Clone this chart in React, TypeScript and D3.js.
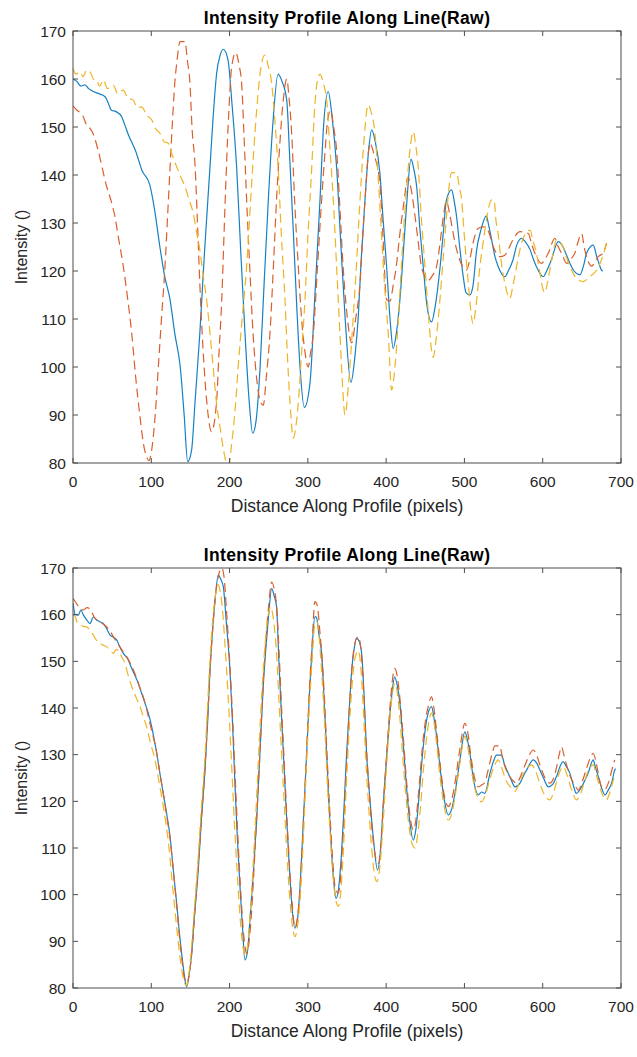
import React from "react";
import * as d3 from "d3";

type P = [number, number];

const xTicks = [0, 100, 200, 300, 400, 500, 600, 700];
const yTicks = [80, 90, 100, 110, 120, 130, 140, 150, 160, 170];
const titleText = "Intensity Profile Along Line(Raw)";
const xLabelText = "Distance Along Profile (pixels)";
const yLabelText = "Intensity ()";

const topBlue: P[] = [[0,160],[5,159.5],[10,158.5],[15,158.8],[20,158],[26,157.4],[32,157],[41,156.3],[45,155],[49,153.5],[55,153.2],[62,152.2],[66,150.5],[71,148.3],[80,145],[88,141],[98,138],[104,133],[111,125],[117,119],[124,114],[130,107],[137,100],[142,90],[146.5,80.3],[151.5,82.7],[156,93],[162,107],[168,124],[175,141.7],[179,152],[183.5,161.2],[188,165],[192,166.2],[198,164],[203,155],[209,141.7],[214,125],[219.7,107],[225,93],[229.5,86.2],[234,89],[239,100],[244,117],[249.5,134.8],[255,150],[262,161],[267,159.5],[273,155.6],[277,143],[281.5,128],[286,112],[290,100],[295.5,91.6],[302.7,96.6],[309,115],[315.5,134.8],[320,150],[326,157.4],[331,152],[336.7,141.7],[342,126],[347.5,110.5],[355,96.8],[360,102],[364.4,110.5],[368,122],[373,134.8],[377,144],[381.5,149.4],[386,147],[392,140.4],[396,131],[400.6,120.9],[405,110],[409,103.9],[413,107],[417.6,114],[422,124],[426,133.4],[431.7,143.3],[435,141.5],[439,137.6],[443,129],[447.4,120.9],[452,113],[458,109.4],[463,113],[469,121],[473,128],[477,134.8],[483.6,136.9],[487,134.5],[490,131.3],[494,125],[498.5,118.8],[502,115.5],[507,115],[511,117],[515.6,124.4],[521,128.5],[528,131.5],[531,129.5],[534.8,126.5],[539,123],[543,121],[551.7,118.8],[556,120],[562,122.3],[567,125.5],[573,126.8],[578,126],[584,124.4],[588,122.5],[592,120.9],[600.7,118.8],[605,120],[611,122.3],[619.8,126.1],[626,125],[630,123.5],[634.7,121.6],[640,120],[647.5,119.2],[652,121],[656,123.7],[664.5,125.4],[669,123],[672,121.5],[675,120.2],[677,120]];

const topRed: P[] = [[0,154.4],[5,153.5],[9,153],[13,152.2],[17,150.5],[21.7,149.7],[26,148.5],[32,145.2],[38,141],[43,137.6],[48,135],[53.6,131.3],[58,127],[64.3,120.9],[70,114],[75,107],[80,98],[85.6,89.6],[90,84],[94,81.3],[97,80.5],[100.5,82.7],[105,90],[109,100],[113,110],[117.5,120.9],[121,132],[124,141.7],[127,151],[130,159.1],[133,164],[136.7,167.8],[143,167.8],[146,164],[149.4,159.1],[152,150],[156,141.7],[159,130],[162,117.4],[166,104],[170.7,93.1],[177,86.5],[183.5,93],[186.5,103],[190,114],[193,128],[196,141.7],[199,153],[202.7,162.6],[208,165.5],[212,163],[215.4,159.1],[218.5,148],[221.8,134.8],[226,120],[230,107],[235,97],[239,93],[243,92],[247,98],[251.6,107],[256,121],[260,134.8],[264,146],[268.6,155.6],[273,160],[276,156],[279.3,148.7],[283,135],[287.8,120.9],[292,110],[296,103.5],[300.6,100],[303,102.5],[307,107],[312,120],[317.6,134.8],[322,145],[325,151],[329,153.5],[333,150],[336.7,145.2],[341,133],[345,121],[350,111],[356,105],[361,110],[366.6,117.4],[370,127],[373,134.8],[376,142],[379,146.6],[385,144],[392,138.3],[396,127],[400.6,114],[405,113.7],[409,117],[413,121],[417,127],[422,133.4],[428,139.5],[432,137],[437,131.3],[441,126],[445,121],[449,119],[454,118.1],[459,119],[464.5,121],[469,126],[473,131.3],[477,134.5],[481,132],[485.7,127.8],[490,124.5],[494,122.3],[502.8,120.2],[507,122.5],[511,125.8],[517.7,128.9],[524,129.2],[530,128.5],[537,125],[545,123],[551.7,123.3],[556,124.5],[562,126.5],[571,128.2],[581.6,127.8],[586,125.5],[590,123.7],[598.6,121.6],[603,122.5],[607,123.7],[615.6,126.8],[620,125],[624,123.7],[630.6,121.6],[636,122.5],[641,123.7],[645,126],[649.7,127.8],[653,125],[656,123],[662.5,121],[667,122],[671,123],[677,123.7],[681.6,125.8]];

const topYellow: P[] = [[0,162.2],[4,161],[8.5,161.5],[13,160.5],[17,161.8],[21.7,161.5],[26,160],[30,159.8],[34,158.5],[38.7,159.8],[44,158],[51.5,158.7],[57,157],[64.3,157.7],[70,156],[77,155.6],[82,154],[87.7,154.2],[94,152.5],[100.5,151.5],[106,149.5],[111,148.7],[116,147],[121.7,146.6],[127,144],[132.4,141.7],[138,139.5],[143,137.6],[148,135],[153.6,132],[158,128],[162,124.4],[166,119.5],[170.7,114],[175,107],[179,100],[183,93],[187.7,87.6],[192,83],[196,80],[199,79.5],[202.7,84],[207,91],[211,100],[216,110],[221.8,121],[227,135],[232.4,148.7],[237,158],[241,163.3],[245,165],[249,163],[253.8,159.1],[258,151],[262,141.7],[266,128],[270.8,114],[274,102],[277,93.1],[281.5,85.2],[285,88],[288,93],[292,103],[296.3,114],[300,127],[305,141.7],[308,152],[311,158.4],[315.5,161],[320,159],[324,155.6],[328,146],[332.5,134.8],[337,120],[341,107],[344,97],[347.4,90],[352,96.6],[357,108],[362,121],[366,133],[370.8,145.2],[377,154.6],[381,153],[385.7,148.7],[390,139],[394,127.8],[398,117],[402.7,107],[407,95.2],[410,98],[413,103.5],[417,114],[422,127.8],[426,137],[430.4,145.2],[434.6,149],[438,146],[441,141.7],[445,131],[449.6,121],[454,111],[458,103.5],[460,102],[464,106],[468.7,114],[473,123],[477,131.3],[480,137],[483.6,140.5],[490,140.5],[493,138],[496.4,134.8],[500,127],[505,117.4],[508,112],[511,109],[515,113],[519.8,121],[524,126],[528,130.6],[534.8,134.8],[538,134.8],[540,131],[543,127.8],[547,122],[551.7,117.4],[558,114.3],[562,117],[566.7,121],[571,124.5],[575,126.8],[583.7,128.5],[588,126],[592,123.7],[596,120],[600.7,116],[603,115.5],[606,117.5],[609,120.2],[613,123.5],[617.7,126.5],[622,126],[626,125],[630,123],[634.7,121],[643,118.5],[651.7,117.8],[660,118.8],[669,120.2],[675,122.3],[681.6,125.8]];

const bottomBlue: P[] = [[0,162.5],[3,160],[6.8,159.9],[10,161],[13,160],[17,159],[21.7,158.1],[26,159.5],[30,158.9],[34,158.5],[38.7,158.1],[43,157],[47.3,155.6],[51,155.2],[55.8,154.6],[60,153],[64.3,151.7],[70,150.5],[75,148.5],[79,147],[83.4,145.3],[88,143],[92,141],[96,139],[100.5,136],[104,133],[107,130.3],[111,126],[115.3,121.7],[120,117],[124,112.4],[128,105.5],[132.4,98.2],[135.5,92.5],[138.8,87.4],[142,83],[145.2,80.3],[148,82.5],[151.6,87.4],[155,95],[160,105.3],[164,116],[168.6,126.7],[172,137],[175,148.1],[178,156],[181.4,163.1],[185.6,168.5],[189,167.5],[192,166],[196,158],[200.5,148.1],[204,136],[207,123.1],[210,112],[213.3,101.7],[216.5,93],[219.7,86],[223,88],[226,94.6],[230,104],[234.6,116],[239,131],[243,144.6],[246,152],[249.4,158.9],[253.8,165.6],[257,164],[260,161.7],[263,150],[266.6,137.4],[270,126],[273,116],[276,107],[279.3,98.2],[283.5,92.8],[287,95],[290,101.7],[294,115],[298.5,130.3],[302,143],[305,151.7],[309,159.6],[311,159.4],[314,156],[317.6,151.7],[321,141],[324,130.3],[327,119],[330.4,108.9],[333,103],[336,99.2],[339,101],[343,108.9],[346,118],[349.5,130.3],[353,140],[356,148.1],[359,152.5],[362,154.9],[365,154.5],[368.7,151.7],[372,142],[375,130.3],[379,121],[383.5,112.4],[389,105.3],[393,110],[396.4,119.6],[400,128],[405,138.9],[408,144],[411,146.7],[414,145],[417.6,141],[422,132],[426,123.1],[430,116],[434.6,111.7],[438,114],[443,123.1],[447,131],[451.7,137.4],[458,140.3],[461,138],[464.5,133.9],[469,127],[473,121.7],[479.4,117.1],[484,118.5],[487.9,121.7],[494.3,128.9],[500.6,134.9],[504,133],[507,130.3],[510,126.5],[513.4,123.1],[517.7,121.4],[522,122],[526,121.7],[532.6,126],[537,128.5],[541,129.9],[547.5,129.9],[551,128],[556,126],[560,124.5],[564.5,123.1],[571,123.9],[575,125.3],[579.5,126.7],[588,128.9],[592,128.3],[596.4,126.7],[601,125],[607,123.1],[613,123.7],[618,125.5],[622,127.4],[626,128.5],[630,127.5],[634.7,126],[639,123.5],[643,121.7],[649.7,123.1],[654,124.5],[658,126],[664.5,128.9],[667,127.5],[671,125.3],[675,123],[679.5,121.4],[684,122.5],[688,123.9],[692,126.7],[693,127]];

const bottomRed: P[] = [[0,163.5],[4,162.5],[8,161.5],[13,161],[18,161.5],[23.4,160.8],[27,159.5],[30,158.9],[36,158.3],[43,157.4],[47,156.5],[51.5,155.3],[56,154],[60,153.1],[64,152],[68.6,151],[74,149.3],[79,147.4],[84,145],[89.7,142.4],[94,139.8],[98.2,136.7],[103,133.5],[107,130.3],[111,126],[115.5,121.5],[120,116.5],[124,112],[128,105.5],[132.5,97.5],[136,91],[139.5,85.5],[143,81.5],[145.5,80.8],[148,82.5],[152,88],[156,97],[160,106],[164,116],[168.6,127],[172,138],[175,148],[178.5,157],[182,164],[186,168.5],[190,170],[193,168],[196,161],[200.5,149],[204,137.5],[207.5,124],[211,111],[214.5,100],[218,91.5],[221.8,87.4],[225,90],[228,96],[232,108],[236,121],[240,135],[243.5,147],[247,156],[250,162],[253.8,167],[257,165.5],[260,162],[263.5,151],[267,138],[270.5,126],[274,114],[277,105],[280,98],[283.5,93],[287,95.5],[290.5,102.5],[294.5,116],[298.5,131],[302,144],[305.5,154],[309,162.8],[312,162],[315,157],[318,151],[321.5,141],[324.5,130],[328,118],[331.5,108],[335,101.5],[338.8,100.3],[342,104],[345.5,114],[349.5,128],[353,140],[356.5,149],[361,154.5],[364.4,155.3],[367.5,153],[370.5,146],[374,134],[378,123],[382,114],[386,108.5],[390,106.7],[393.5,111],[397,121],[401,131],[405,140.5],[408,146],[411,148.5],[414,147],[417.6,142],[422,133.5],[426,124.5],[430,117.5],[434.6,113.9],[438,116],[442,123],[446,131],[450,137],[454,140.5],[458,142.4],[461,140],[464.5,135],[469,128],[473,122.5],[479.4,118.9],[484,120.5],[488,124],[494,131],[500.6,136.7],[504,135],[508,130],[513,125],[517.7,123.1],[522,123.5],[526,124],[530,126.5],[535,130],[539,131.9],[545,131.9],[549,129],[554,126.5],[560,124.8],[566.7,123.9],[572,125.5],[578,128],[583,130],[588,131],[592,130],[597,127.5],[603,125],[609,123.9],[614,125],[618,127.5],[621,130],[624,131.7],[627,130],[631,127.5],[636,125],[641,123.5],[645.5,122.4],[650,124],[655,126.5],[660,129],[664.5,130.3],[668,128.5],[671,126],[675,123.1],[679.5,122.6],[684,124],[688,126.5],[692,128.9]];

const bottomYellow: P[] = [[0,160],[3,159.5],[5,158.5],[8.5,158],[13,157.5],[17.5,157.4],[22,156.5],[26,155.6],[30,154.5],[34.5,153.9],[38,153.5],[43,153.1],[47,152.5],[51.5,151.7],[55,152.5],[58,152.4],[62,151],[66.4,149.6],[70,147.3],[75,144.6],[80,142.5],[85.6,140.3],[90,138],[94,136],[99,132.5],[104.7,128.9],[109,125],[113.3,121],[118,116],[122,111],[126,104],[130,97],[134,90.5],[138,85],[141.5,81.5],[145,80.5],[148,83],[151.5,89],[155.5,98],[159.5,107],[163.5,117.5],[168,128],[171.5,139],[174.5,149],[178,158],[181.4,163.5],[185,166.5],[188,165],[191,161],[194,154],[198,143],[202,130],[206,116],[210,104],[213.5,95],[217,89],[219.7,87],[223,89],[226,95],[230,106],[234,119],[238,133],[241.5,144],[245,153],[249.4,160],[252.5,161.7],[256,159],[259.5,153],[263,142],[266.5,130],[270,119],[273.5,108],[277,99],[280.5,93],[283.5,91],[287,93.5],[290.5,100],[294.5,113],[298,127],[301.5,139],[305,149],[309,158],[311.5,158.5],[314.5,155],[317.5,148],[321,138],[324,127],[327.5,116],[331,106.5],[335,99.5],[339,97.5],[342,100.5],[345.5,110],[349,123],[353,136],[356.5,145],[360,150.5],[364.4,152.3],[367.5,149],[370.5,141],[374,129],[378,118],[382,109],[385,104.5],[388,102.8],[392,106],[396,115],[400,126],[404,136],[408,143],[411,145.3],[414,143.5],[417.5,138],[421,130],[425,121.5],[429,115],[433,111],[437,110],[440,112.5],[444,119],[448,127.5],[452,134],[455,137.5],[458,138.9],[461,137],[465,131.5],[469,125],[474,119],[479.4,116],[484,117.5],[488,121],[494,128],[500.6,133.9],[504,132],[508,127.5],[513,123],[518,120.5],[522,119.9],[527,121.5],[532,124.5],[538,127.5],[543,128.9],[548,127],[553,124.5],[559,123],[564.5,122.1],[569,123.5],[575,125.8],[581,127.3],[586,127.8],[591,126.5],[596,124],[602,121.5],[609,120.3],[614,122],[619,125],[623,126.8],[626,127.4],[630,126.2],[635,123.5],[639,121.5],[643,120.3],[648,121.5],[653,124],[658,126.5],[664.5,127.8],[668,126],[672,123.5],[677,121.2],[681.6,120.3],[685,121.5],[689,123.8],[692,125.7]];

const FONT = "'Liberation Sans', Arial, Helvetica, sans-serif";
const TXT = "#262626";
const AX = "#4d4d4d";
const BLUE = "#1580C4";
const RED = "#DA5F2C";
const YELLOW = "#EDB423";

const LEFT = 73;
const RIGHT = 621;

function Plot({ id, top, bottom, blue, red, yellow }: { id: string; top: number; bottom: number; blue: P[]; red: P[]; yellow: P[] }) {
  const x = d3.scaleLinear().domain([0, 700]).range([LEFT, RIGHT]);
  const y = d3.scaleLinear().domain([80, 170]).range([bottom, top]);
  const line = d3
    .line<P>()
    .x((d) => x(d[0]))
    .y((d) => y(d[1]))
    .curve(d3.curveMonotoneX);
  const tl = 5;
  const cx = (LEFT + RIGHT) / 2;
  return (
    <g>
      <defs>
        <clipPath id={id}>
          <rect x={LEFT} y={top} width={RIGHT - LEFT} height={bottom - top} />
        </clipPath>
      </defs>
      <g clipPath={`url(#${id})`} fill="none" strokeLinejoin="round">
        <path d={line(blue) || ""} stroke={BLUE} strokeWidth={1.2} />
        <path d={line(red) || ""} stroke={RED} strokeWidth={1.2} strokeDasharray="9,5" />
        <path d={line(yellow) || ""} stroke={YELLOW} strokeWidth={1.2} strokeDasharray="9,5" />
      </g>
      <rect x={LEFT} y={top} width={RIGHT - LEFT} height={bottom - top} fill="none" stroke={AX} strokeWidth={1} />
      {xTicks.map((t) => (
        <g key={"x" + t}>
          <line x1={x(t)} x2={x(t)} y1={bottom} y2={bottom - tl} stroke={AX} />
          <line x1={x(t)} x2={x(t)} y1={top} y2={top + tl} stroke={AX} />
          <text x={x(t)} y={bottom + 24} textAnchor="middle" fontFamily={FONT} fontSize={15.5} fill={TXT}>
            {t}
          </text>
        </g>
      ))}
      {yTicks.map((t) => (
        <g key={"y" + t}>
          <line x1={LEFT} x2={LEFT + tl} y1={y(t)} y2={y(t)} stroke={AX} />
          <line x1={RIGHT} x2={RIGHT - tl} y1={y(t)} y2={y(t)} stroke={AX} />
          <text x={LEFT - 7} y={y(t) + 5.5} textAnchor="end" fontFamily={FONT} fontSize={15.5} fill={TXT}>
            {t}
          </text>
        </g>
      ))}
      <text x={cx} y={top - 7.5} textAnchor="middle" fontFamily={FONT} fontSize={17.5} fontWeight="bold" letterSpacing={0.4} fill="#000">
        {titleText}
      </text>
      <text x={cx} y={bottom + 49} textAnchor="middle" fontFamily={FONT} fontSize={17.5} fill={TXT}>
        {xLabelText}
      </text>
      <text
        transform={`translate(26.5,${(top + bottom) / 2}) rotate(-90)`}
        textAnchor="middle"
        fontFamily={FONT}
        fontSize={16}
        fill={TXT}
      >
        {yLabelText}
      </text>
    </g>
  );
}

export default function App() {
  return (
    <svg
      width={637}
      height={1057}
      style={{ position: "absolute", left: 0, top: 0, background: "#fff" }}
    >
      <rect x={0} y={0} width={637} height={1057} fill="#fff" />
      <Plot id="clipTop" top={31} bottom={463} blue={topBlue} red={topRed} yellow={topYellow} />
      <Plot id="clipBottom" top={568} bottom={988} blue={bottomBlue} red={bottomRed} yellow={bottomYellow} />
    </svg>
  );
}
